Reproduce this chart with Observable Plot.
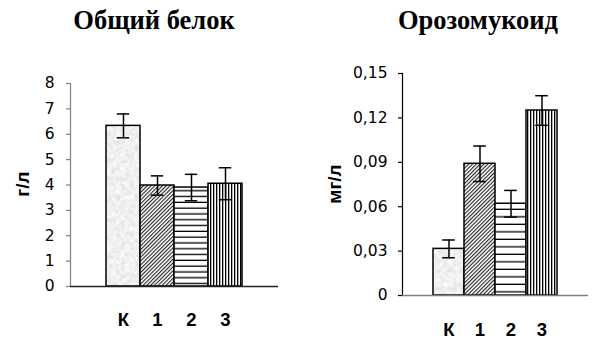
<!DOCTYPE html>
<html>
<head>
<meta charset="utf-8">
<script src="https://cdn.jsdelivr.net/npm/d3@7"></script>
<script src="https://cdn.jsdelivr.net/npm/@observablehq/plot@0.6"></script>
<style>
  body { margin: 0; background: #fff; }
  #wrap { position: relative; width: 593px; height: 341px; overflow: hidden;
          font-family: "Liberation Sans", Arial, sans-serif; color: #000; }
  .panel { position: absolute; top: 0; }
  .title { position: absolute; font-family: "Liberation Serif", "Times New Roman", serif;
           font-weight: bold; font-size: 26.5px; line-height: 26px; white-space: nowrap;
           transform: translateX(-50%); }
  .ylab { position: absolute; font-weight: bold; font-size: 19px; line-height: 19px;
          white-space: nowrap; transform: translate(-50%, -50%) rotate(-90deg); }
</style>
</head>
<body>
<div id="wrap"></div>
<script>
// Groups: control (К) and three experimental groups
const groups = ["К", "1", "2", "3"];

// Total protein, g/l: mean and error
const proteinMean = [6.33, 3.98, 3.90, 4.05];
const proteinErr  = [0.47, 0.38, 0.52, 0.63];
const proteinTicks = [0, 1, 2, 3, 4, 5, 6, 7, 8];
const proteinTickLabels = ["0", "1", "2", "3", "4", "5", "6", "7", "8"];

// Orosomucoid, mg/l: mean and error
const orosoMean = [0.0315, 0.089, 0.062, 0.125];
const orosoErr  = [0.006, 0.012, 0.009, 0.010];
const orosoTicks = [0, 0.03, 0.06, 0.09, 0.12, 0.15];
const orosoTickLabels = ["0", "0,03", "0,06", "0,09", "0,12", "0,15"];

const titles = ["Общий белок", "Орозомукоид"];
const units = ["г/л", "мг/л"];

// Fill patterns: stippled grey, diagonal hatch, horizontal lines, vertical lines
function addPatterns(svg, prefix, hStep) {
  const defs = d3.select(svg).insert("defs", ":first-child");
  const f = defs.append("filter").attr("id", prefix + "noise")
    .attr("x", 0).attr("y", 0).attr("width", "100%").attr("height", "100%");
  f.append("feTurbulence").attr("type", "fractalNoise")
    .attr("baseFrequency", 0.22).attr("numOctaves", 2).attr("seed", 7);
  f.append("feColorMatrix").attr("type", "matrix")
    .attr("values", "0.36 0 0 0 0.69  0.36 0 0 0 0.69  0.36 0 0 0 0.69  0 0 0 0 1");

  const p0 = defs.append("pattern").attr("id", prefix + "0")
    .attr("patternUnits", "userSpaceOnUse").attr("width", 80).attr("height", 260);
  p0.append("rect").attr("width", 80).attr("height", 260).attr("fill", "#e4e4e4")
    .attr("filter", `url(#${prefix}noise)`);

  const p1 = defs.append("pattern").attr("id", prefix + "1")
    .attr("patternUnits", "userSpaceOnUse").attr("width", 2.7).attr("height", 3)
    .attr("patternTransform", "rotate(45)");
  p1.append("rect").attr("width", 2.7).attr("height", 3).attr("fill", "#fff");
  p1.append("rect").attr("width", 1.1).attr("height", 3).attr("fill", "#222");

  const p2 = defs.append("pattern").attr("id", prefix + "2")
    .attr("patternUnits", "userSpaceOnUse").attr("width", 8).attr("height", hStep);
  p2.append("rect").attr("width", 8).attr("height", hStep).attr("fill", "#fff");
  p2.append("rect").attr("y", hStep - 1.3).attr("width", 8).attr("height", 1.3).attr("fill", "#000");

  const p3 = defs.append("pattern").attr("id", prefix + "3")
    .attr("patternUnits", "userSpaceOnUse").attr("width", 3).attr("height", 8);
  p3.append("rect").attr("width", 3).attr("height", 8).attr("fill", "#fff");
  p3.append("rect").attr("width", 1.3).attr("height", 8).attr("fill", "#000");
}

function panel({prefix, means, errs, ticks, tickLabels, yMax, width, height,
                margins, pad, capInset, hStep, yAxisColor, xAxisColor, labelDy, tickDx}) {
  const rows = groups.map((g, i) => ({g, i, mean: means[i], err: errs[i]}));
  const tickRows = ticks.map((v, i) => ({v, label: tickLabels[i]}));
  const svg = Plot.plot({
    width, height,
    marginTop: margins[0], marginRight: margins[1], marginBottom: margins[2], marginLeft: margins[3],
    x: {domain: groups, paddingInner: 0, paddingOuter: pad, axis: null},
    y: {domain: [0, yMax], axis: null},
    color: {type: "identity"},
    style: {fontFamily: "Liberation Sans, Arial, sans-serif", background: "transparent", color: "#000"},
    marks: [
      Plot.barY(rows, {x: "g", y: "mean", fill: d => `url(#${prefix}${d.i})`,
                       stroke: "#000", strokeWidth: 1.5}),
      Plot.ruleX(rows, {x: "g", y1: d => d.mean - d.err, y2: d => d.mean + d.err,
                        stroke: "#000", strokeWidth: 1.5}),
      Plot.tickY(rows, {x: "g", y: d => d.mean - d.err, inset: capInset, stroke: "#000", strokeWidth: 1.5}),
      Plot.tickY(rows, {x: "g", y: d => d.mean + d.err, inset: capInset, stroke: "#000", strokeWidth: 1.5}),
      Plot.frame({anchor: "left", stroke: yAxisColor, strokeWidth: 1.2}),
      // y ticks and their labels
      Plot.axisY({ticks, tickSize: 4, stroke: yAxisColor, strokeWidth: 1.2, text: null, label: null}),
      Plot.text(tickRows, {y: "v", text: "label", frameAnchor: "left", textAnchor: "end",
                           lineAnchor: "middle", dx: tickDx, fontSize: 15.5,
                           fontFamily: "DejaVu Sans, sans-serif", fill: "#000"}),
      Plot.ruleY([0], {stroke: xAxisColor, strokeWidth: 1.3}),
      // group labels under the bars
      Plot.text(rows, {x: "g", text: "g", frameAnchor: "bottom", lineAnchor: "top", dy: labelDy,
                       fontSize: 18.5, fontWeight: "bold", fill: "#000"})
    ]
  });
  addPatterns(svg, prefix, hStep);
  return svg;
}

const wrap = document.getElementById("wrap");

function place(el, left) {
  el.classList.add("panel");
  el.style.left = left + "px";
  wrap.appendChild(el);
}

place(panel({
  prefix: "pA", means: proteinMean, errs: proteinErr, ticks: proteinTicks,
  tickLabels: proteinTickLabels, yMax: 8, width: 296, height: 341,
  margins: [83, 18, 55, 70], pad: 1, capInset: 10.8, hStep: 5.8,
  yAxisColor: "#808080", xAxisColor: "#222", labelDy: 26, tickDx: -16
}), 0);

place(panel({
  prefix: "pB", means: orosoMean, errs: orosoErr, ticks: orosoTicks,
  tickLabels: orosoTickLabels, yMax: 0.15, width: 297, height: 341,
  margins: [73, 5, 46, 106], pad: 0.95, capInset: 9.2, hStep: 7.5,
  yAxisColor: "#000", xAxisColor: "#808080", labelDy: 27, tickDx: -15
}), 296);

// Titles and unit labels
[[titles[0], 154], [titles[1], 478]].forEach(([t, cx]) => {
  const d = document.createElement("div");
  d.className = "title";
  d.textContent = t;
  d.style.left = cx + "px";
  d.style.top = "7px";
  wrap.appendChild(d);
});
[[units[0], 22], [units[1], 334]].forEach(([t, cx]) => {
  const d = document.createElement("div");
  d.className = "ylab";
  d.textContent = t;
  d.style.left = cx + "px";
  d.style.top = "184px";
  wrap.appendChild(d);
});
</script>
</body>
</html>
